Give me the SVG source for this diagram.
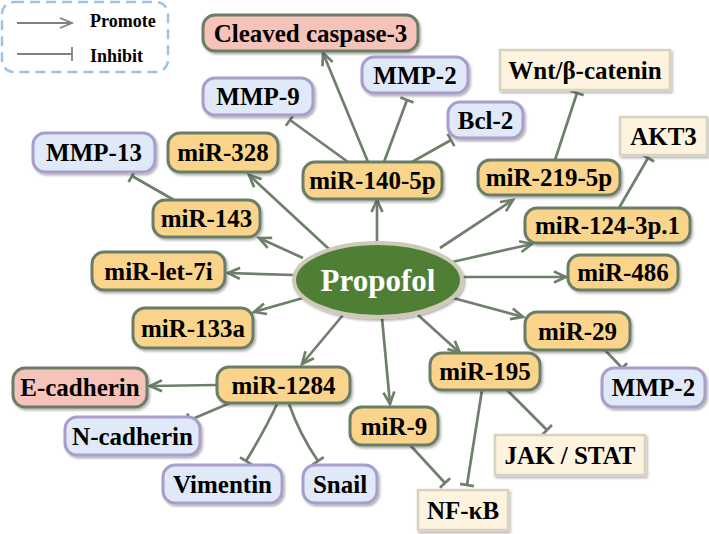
<svg xmlns="http://www.w3.org/2000/svg" width="709" height="534" viewBox="0 0 709 534">
<defs>
<style>
.t{font-family:"Liberation Serif","Times New Roman",serif;font-weight:bold;font-size:25px;text-anchor:middle;fill:#000}
.lg{font-family:"Liberation Serif","Times New Roman",serif;font-weight:bold;font-size:18px;fill:#000}
.mir{fill:#fad48a;stroke:#6b7d66;stroke-width:3}
.pink{fill:#f5c3b9;stroke:#6b7d66;stroke-width:3}
.blue{fill:#dfe9f7;stroke:#a89dcb;stroke-width:3}
.cream{fill:#fdf3de;stroke:#d8d3c1;stroke-width:2.5}
.c{fill:none;stroke:#6e806b;stroke-width:2.7}
.pr{marker-end:url(#arr)}
.in{marker-end:url(#bar)}
</style>
<marker id="arr" markerUnits="userSpaceOnUse" markerWidth="16" markerHeight="14" refX="13" refY="7" orient="auto">
<path d="M1,1.5 L13,7 L1,12.5" fill="none" stroke="#6e806b" stroke-width="2.7"/>
</marker>
<marker id="bar" markerUnits="userSpaceOnUse" markerWidth="6" markerHeight="18" refX="3" refY="9" orient="auto">
<path d="M3,2 L3,16" fill="none" stroke="#6e806b" stroke-width="2.7"/>
</marker>
<marker id="larr" markerUnits="userSpaceOnUse" markerWidth="16" markerHeight="14" refX="13" refY="7" orient="auto">
<path d="M1,2 L13,7 L1,12" fill="none" stroke="#808080" stroke-width="1.8"/>
</marker>
<marker id="lbar" markerUnits="userSpaceOnUse" markerWidth="6" markerHeight="18" refX="3" refY="9" orient="auto">
<path d="M3,2 L3,16" fill="none" stroke="#808080" stroke-width="1.8"/>
</marker>
<filter id="sh" x="-10%" y="-20%" width="130%" height="160%">
<feDropShadow dx="1.5" dy="2" stdDeviation="1.2" flood-color="#000" flood-opacity="0.3"/>
</filter>
</defs>
<rect width="709" height="534" fill="#fff"/>

<g id="legend">
<rect x="2" y="2" width="166" height="70" rx="12" fill="none" stroke="#9dc3e6" stroke-width="2.5" stroke-dasharray="10,6"/>
<line x1="17" y1="23" x2="72" y2="23" stroke="#808080" stroke-width="1.8" marker-end="url(#larr)"/>
<line x1="17" y1="54" x2="72" y2="54" stroke="#808080" stroke-width="1.8" marker-end="url(#lbar)"/>
<text class="lg" x="90" y="27">Promote</text>
<text class="lg" x="90" y="62">Inhibit</text>
</g>

<g id="connectors">
<path class="c pr" d="M330,250 L249,175"/>
<path class="c pr" d="M303,258 L259,238"/>
<path class="c pr" d="M294,275 L228,273"/>
<path class="c pr" d="M303,298 L254,312"/>
<path class="c pr" d="M343,315 L302,364"/>
<path class="c pr" d="M382,318 L390,404"/>
<path class="c pr" d="M418,315 L460,353"/>
<path class="c pr" d="M453,298 L523,317"/>
<path class="c pr" d="M462,277 L566,277"/>
<path class="c pr" d="M452,262 L532,244"/>
<path class="c pr" d="M440,248 L513,200"/>
<path class="c pr" d="M377,243 L377,200"/>
<path class="c pr" d="M368,162 L323,53"/>
<path class="c in" d="M348,162 L290,120"/>
<path class="c in" d="M384,162 L407,100"/>
<path class="c in" d="M412,162 L451,140"/>
<path class="c in" d="M555,160 L577,93"/>
<path class="c in" d="M619,208 L648,158"/>
<path class="c in" d="M605,350 L622,368"/>
<path class="c in" d="M507,390 L547,430"/>
<path class="c in" d="M482,390 L467,485"/>
<path class="c in" d="M410,445 L445,483"/>
<path class="c in" d="M174,200 L132,176"/>
<path class="c pr" d="M217,385 L150,386"/>
<path class="c in" d="M230,403 L190,420"/>
<path class="c in" d="M277,404 Q265,430 246,461"/>
<path class="c in" d="M289,404 Q300,435 318,461"/>
</g>

<g id="propofol">
<ellipse cx="378" cy="280" rx="84" ry="37" fill="#4f7f34" stroke="#cfcab8" stroke-width="4" filter="url(#sh)"/>
<text x="378" y="291" style="font-family:'Liberation Serif','Times New Roman',serif;font-weight:bold;font-size:31px;text-anchor:middle;fill:#fff">Propofol</text>
</g>

<g id="cleaved-caspase-3"><rect class="pink" x="203" y="15" width="215" height="36" rx="12" filter="url(#sh)"/><text class="t" x="310.5" y="41.5">Cleaved caspase-3</text></g>
<g id="mmp-9"><rect class="blue" x="203" y="78" width="110" height="37" rx="12" filter="url(#sh)"/><text class="t" x="258" y="105">MMP-9</text></g>
<g id="mmp-2-top"><rect class="blue" x="362" y="57" width="106" height="36" rx="12" filter="url(#sh)"/><text class="t" x="415" y="83.5">MMP-2</text></g>
<g id="bcl-2"><rect class="blue" x="448" y="102" width="75" height="36" rx="12" filter="url(#sh)"/><text class="t" x="485.5" y="128.5">Bcl-2</text></g>
<g id="wnt"><rect class="cream" x="500" y="50" width="170" height="40" filter="url(#sh)"/><text class="t" x="585" y="78.5">Wnt/β-catenin</text></g>
<g id="akt3"><rect class="cream" x="620" y="117" width="87" height="38" filter="url(#sh)"/><text class="t" x="663.5" y="144.5">AKT3</text></g>
<g id="mir-140-5p"><rect class="mir" x="303" y="162" width="139" height="37" rx="12" filter="url(#sh)"/><text class="t" x="372.5" y="189">miR-140-5p</text></g>
<g id="mir-219-5p"><rect class="mir" x="478" y="160" width="142" height="35" rx="12" filter="url(#sh)"/><text class="t" x="549" y="186">miR-219-5p</text></g>
<g id="mir-124-3p1"><rect class="mir" x="525" y="208" width="165" height="35" rx="12" filter="url(#sh)"/><text class="t" x="607.5" y="234">miR-124-3p.1</text></g>
<g id="mir-486"><rect class="mir" x="568" y="255" width="110" height="35" rx="12" filter="url(#sh)"/><text class="t" x="623" y="281">miR-486</text></g>
<g id="mir-29"><rect class="mir" x="525" y="312" width="105" height="38" rx="12" filter="url(#sh)"/><text class="t" x="577.5" y="339.5">miR-29</text></g>
<g id="mmp-2-bottom"><rect class="blue" x="602" y="368" width="103" height="39" rx="12" filter="url(#sh)"/><text class="t" x="653.5" y="396">MMP-2</text></g>
<g id="mir-195"><rect class="mir" x="430" y="353" width="110" height="37" rx="12" filter="url(#sh)"/><text class="t" x="485" y="380">miR-195</text></g>
<g id="jak-stat"><rect class="cream" x="495" y="435" width="150" height="40" filter="url(#sh)"/><text class="t" x="570" y="463.5">JAK / STAT</text></g>
<g id="mir-9"><rect class="mir" x="350" y="407" width="88" height="38" rx="12" filter="url(#sh)"/><text class="t" x="394" y="434.5">miR-9</text></g>
<g id="nf-kb"><rect class="cream" x="418" y="490" width="90" height="40" filter="url(#sh)"/><text class="t" x="463" y="518.5">NF-κB</text></g>
<g id="snail"><rect class="blue" x="303" y="465" width="74" height="38" rx="12" filter="url(#sh)"/><text class="t" x="340" y="492.5">Snail</text></g>
<g id="vimentin"><rect class="blue" x="163" y="465" width="119" height="38" rx="12" filter="url(#sh)"/><text class="t" x="222.5" y="492.5">Vimentin</text></g>
<g id="n-cadherin"><rect class="blue" x="65" y="417" width="135" height="38" rx="12" filter="url(#sh)"/><text class="t" x="132.5" y="444.5">N-cadherin</text></g>
<g id="e-cadherin"><rect class="pink" x="13" y="368" width="134" height="39" rx="12" filter="url(#sh)"/><text class="t" x="80" y="396">E-cadherin</text></g>
<g id="mir-1284"><rect class="mir" x="217" y="367" width="133" height="36" rx="12" filter="url(#sh)"/><text class="t" x="283.5" y="393.5">miR-1284</text></g>
<g id="mir-133a"><rect class="mir" x="133" y="308" width="120" height="40" rx="12" filter="url(#sh)"/><text class="t" x="193" y="336.5">miR-133a</text></g>
<g id="mir-let-7i"><rect class="mir" x="92" y="252" width="133" height="38" rx="12" filter="url(#sh)"/><text class="t" x="158.5" y="279.5">miR-let-7i</text></g>
<g id="mir-143"><rect class="mir" x="153" y="200" width="107" height="37" rx="12" filter="url(#sh)"/><text class="t" x="206.5" y="227">miR-143</text></g>
<g id="mmp-13"><rect class="blue" x="33" y="133" width="122" height="39" rx="12" filter="url(#sh)"/><text class="t" x="94" y="161">MMP-13</text></g>
<g id="mir-328"><rect class="mir" x="168" y="133" width="110" height="39" rx="12" filter="url(#sh)"/><text class="t" x="223" y="161">miR-328</text></g>
</svg>
